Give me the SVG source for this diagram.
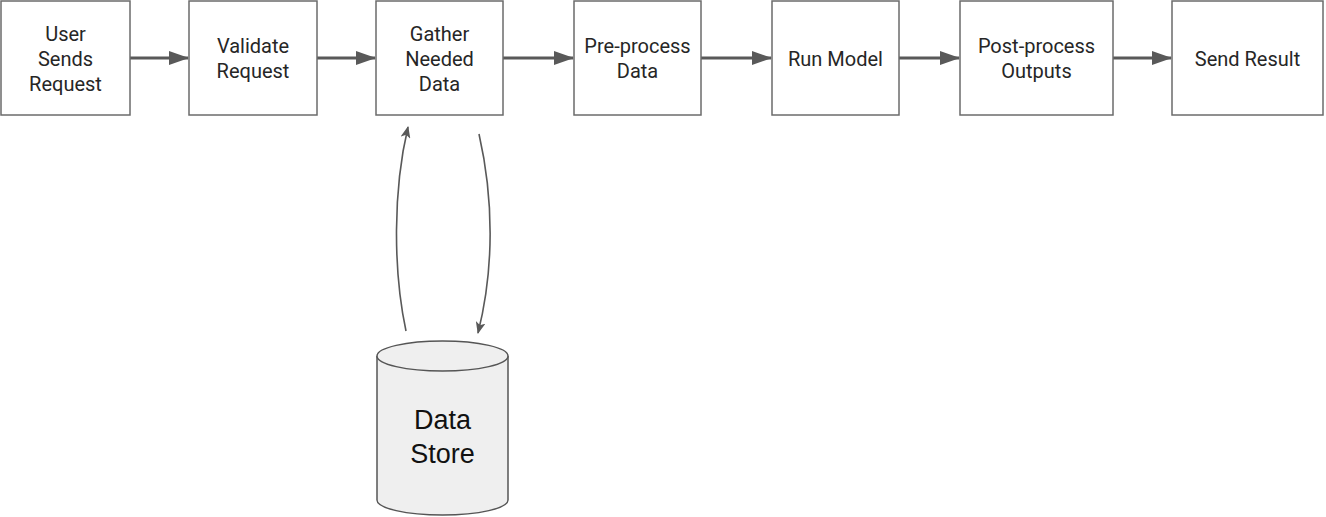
<svg xmlns="http://www.w3.org/2000/svg" width="1326" height="517" viewBox="0 0 1326 517">
<defs>
<style>
.box{fill:#fff;stroke:#6b6b6b;stroke-width:1.5}
.t{font-family:Roboto,"Liberation Sans",sans-serif;font-size:20px;fill:#262626;text-anchor:middle}
.big{font-family:"Liberation Sans",Arial,sans-serif;font-size:27px;fill:#111;text-anchor:middle}
.c{fill:none;stroke:#595959;stroke-width:3}
.cv{fill:none;stroke:#595959;stroke-width:1.6}
</style>
<marker id="ah2" viewBox="0 0 12 10" markerWidth="12" markerHeight="10" refX="11" refY="5" orient="auto" markerUnits="userSpaceOnUse">
<path d="M0,0 L12,5 L0,10 L3,5 Z" fill="#595959"/>
</marker>
<marker id="ahb" viewBox="0 0 20 14" markerWidth="20" markerHeight="14" refX="19" refY="7" orient="auto" markerUnits="userSpaceOnUse">
<path d="M0,0 L20,7 L0,14 Z" fill="#595959"/>
</marker>
</defs>
<g id="connectors">
<path class="c" d="M130,58 H188" marker-end="url(#ahb)"/>
<path class="c" d="M317,58 H375" marker-end="url(#ahb)"/>
<path class="c" d="M503,58 H573" marker-end="url(#ahb)"/>
<path class="c" d="M701,58 H771" marker-end="url(#ahb)"/>
<path class="c" d="M899,58 H959" marker-end="url(#ahb)"/>
<path class="c" d="M1113,58 H1171" marker-end="url(#ahb)"/>
<path class="cv" d="M406,331 C393,270 393,190 408,127" marker-end="url(#ah2)"/>
<path class="cv" d="M479,134 C494,200 494,270 478,333" marker-end="url(#ah2)"/>
</g>
<g id="n1"><rect class="box" x="1" y="1" width="129" height="114"/>
<text class="t" x="65.5" y="41">User</text><text class="t" x="65.5" y="66">Sends</text><text class="t" x="65.5" y="91">Request</text></g>
<g id="n2"><rect class="box" x="189" y="1" width="128" height="114"/>
<text class="t" x="253" y="53">Validate</text><text class="t" x="253" y="78">Request</text></g>
<g id="n3"><rect class="box" x="376" y="1" width="127" height="114"/>
<text class="t" x="439.5" y="41">Gather</text><text class="t" x="439.5" y="66">Needed</text><text class="t" x="439.5" y="91">Data</text></g>
<g id="n4"><rect class="box" x="574" y="1" width="127" height="114"/>
<text class="t" x="637.5" y="53">Pre-process</text><text class="t" x="637.5" y="78">Data</text></g>
<g id="n5"><rect class="box" x="772" y="1" width="127" height="114"/>
<text class="t" x="835.5" y="66">Run Model</text></g>
<g id="n6"><rect class="box" x="960" y="1" width="153" height="114"/>
<text class="t" x="1036.5" y="53">Post-process</text><text class="t" x="1036.5" y="78">Outputs</text></g>
<g id="n7"><rect class="box" x="1172" y="1" width="151" height="114"/>
<text class="t" x="1247.5" y="66">Send Result</text></g>
<g id="store">
<path d="M377,356 V500 A65.5,15 0 0 0 508,500 V356" fill="#efefef" stroke="#555" stroke-width="1.5"/>
<ellipse cx="442.5" cy="356" rx="65.5" ry="15" fill="#efefef" stroke="#555" stroke-width="1.5"/>
<text class="big" x="442.5" y="429">Data</text><text class="big" x="442.5" y="463">Store</text>
</g>
</svg>
